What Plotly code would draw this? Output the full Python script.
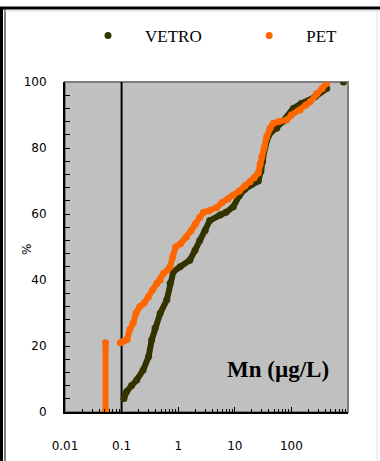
import plotly.graph_objects as go

# ---- data ----
vetro_x = [0.11, 0.123, 0.15, 0.185, 0.24, 0.30, 0.34, 0.39, 0.48, 0.63, 0.72, 0.82, 1.08, 1.6, 1.98,
           2.4, 3.0, 3.6, 5.5, 7.0, 9.4, 12, 15, 20, 26, 29, 31, 34, 40, 55, 70, 108, 150, 262, 420, 830]
vetro_y = [4.1, 6.2, 8.0, 9.7, 12.7, 16.8, 21.8, 25.4, 29.9, 34, 39, 42.5, 44, 46, 49,
           52, 55, 58, 59.7, 60.5, 62.2, 65.5, 67.5, 69, 70, 73, 76, 80, 84, 86, 88, 92, 93.5, 95.5, 98, 100]

pet_low_x = [0.052, 0.052]
pet_low_y = [0.5, 21]

pet_x = [0.095, 0.11, 0.125, 0.14, 0.16, 0.18, 0.21, 0.25, 0.30, 0.35, 0.42, 0.48, 0.55, 0.65, 0.72, 0.80,
         0.90, 1.1, 1.4, 1.7, 2.0, 2.4, 2.8, 3.5, 4.8, 6.0, 7.5, 9.4, 12, 15, 18.6, 22, 25.9, 28, 30, 33,
         36.6, 42, 48, 60, 82.6, 100, 142, 180, 214, 280, 350, 420]
pet_y = [21, 21.5, 22, 25, 27, 30, 32, 33, 35, 37, 39, 40, 42, 43, 44, 47,
         50, 51, 53, 55, 57, 59, 60.5, 61, 62, 63.5, 64.5, 65.7, 67, 68.5, 69.8, 71, 72.4, 75, 77.4, 80,
         83.4, 86, 87.5, 88, 88.5, 90, 91.5, 93, 94, 96.5, 98, 99.6]

series_names = ["VETRO", "PET"]
x_tickvals = [0.01, 0.1, 1, 10, 100]
x_ticktext = ["0.01", "0.1", "1", "10", "100"]
y_tickvals = [0, 20, 40, 60, 80, 100]

VETRO_C = "#333300"
PET_C = "#ff6600"
SERIF = "Liberation Serif, Times New Roman, serif"
SANS = "DejaVu Sans, Arial, sans-serif"

# minor log ticks 2..9 in each decade
x_minor = [m * 10.0 ** e for e in range(-2, 3) for m in range(2, 10)]

fig = go.Figure()

fig.add_trace(go.Scatter(x=[0.1, 0.1], y=[0, 100], mode="lines",
                         line=dict(color="black", width=2), showlegend=False, hoverinfo="skip"))

fig.add_trace(go.Scatter(x=vetro_x[:-1], y=vetro_y[:-1], mode="lines+markers",
                         line=dict(color=VETRO_C, width=6), marker=dict(color=VETRO_C, size=7),
                         showlegend=False))
fig.add_trace(go.Scatter(x=vetro_x[-1:], y=vetro_y[-1:], mode="markers",
                         marker=dict(color=VETRO_C, size=7), showlegend=False))
fig.add_trace(go.Scatter(x=pet_low_x, y=pet_low_y, mode="lines+markers",
                         line=dict(color=PET_C, width=6), marker=dict(color=PET_C, size=7),
                         showlegend=False))
fig.add_trace(go.Scatter(x=pet_x, y=pet_y, mode="lines+markers",
                         line=dict(color=PET_C, width=6), marker=dict(color=PET_C, size=7),
                         showlegend=False))

nb = "\u00a0"
fig.add_trace(go.Scatter(x=[None], y=[None], mode="markers",
                         name=nb * 4 + series_names[0] + nb * 10,
                         marker=dict(color=VETRO_C, size=7)))
fig.add_trace(go.Scatter(x=[None], y=[None], mode="markers",
                         name=nb * 4 + series_names[1],
                         marker=dict(color=PET_C, size=7)))

L, R, T, B = 65, 32, 82, 49
def px(x):
    return (x - L) / 283.0
def py(y):
    return (412 - y) / 330.0

shapes = [
    dict(type="rect", xref="paper", yref="paper", x0=0, y0=0, x1=1, y1=1,
         line=dict(color="#808080", width=2), layer="below"),
    dict(type="line", xref="paper", yref="paper", x0=px(1.5), x1=px(1.5), y0=py(7), y1=py(461),
         line=dict(color="black", width=3)),
    dict(type="line", xref="paper", yref="paper", x0=px(5), x1=px(5), y0=py(9), y1=py(461),
         line=dict(color="black", width=1)),
    dict(type="line", xref="paper", yref="paper", x0=px(0), x1=px(380), y0=py(8), y1=py(8),
         line=dict(color="black", width=3)),
    dict(type="line", xref="paper", yref="paper", x0=px(5), x1=px(380), y0=py(11), y1=py(11),
         line=dict(color="#d8d8d8", width=1)),
    dict(type="line", xref="paper", yref="paper", x0=px(377), x1=px(377), y0=py(11), y1=py(461),
         line=dict(color="#e0e0e0", width=1)),
]

annotations = [
    dict(text="<b>Mn (\u00b5g/L)</b>", xref="paper", yref="paper", x=px(278), y=py(369),
         showarrow=False, font=dict(family=SERIF, size=23, color="black"), xanchor="center", yanchor="middle"),
    dict(text="%", xref="paper", yref="paper", x=px(27), y=py(250), textangle=-90,
         showarrow=False, font=dict(family=SANS, size=12, color="black"), xanchor="center", yanchor="middle"),
]

fig.update_layout(
    width=380, height=461,
    margin=dict(l=L, r=R, t=T, b=B, autoexpand=False),
    paper_bgcolor="white", plot_bgcolor="#c0c0c0",
    shapes=shapes, annotations=annotations,
    showlegend=True,
    legend=dict(orientation="h", x=px(88), y=py(36), xanchor="left", yanchor="middle",
                font=dict(family=SERIF, size=17, color="black"),
                bgcolor="rgba(0,0,0,0)"),
    xaxis=dict(type="log", range=[-2, 3], tickmode="array", tickvals=x_tickvals, ticktext=x_ticktext,
               showgrid=False, zeroline=False, showline=True, linecolor="black", linewidth=2,
               ticks="inside", ticklen=5, tickcolor="black", tickwidth=1,
               ticklabelstandoff=22,
               minor=dict(ticks="inside", ticklen=3, tickcolor="black", tickmode="array",
                          tickvals=x_minor, showgrid=False),
               tickfont=dict(family=SANS, size=12, color="black")),
    yaxis=dict(range=[0, 100], tickmode="array", tickvals=y_tickvals,
               showgrid=False, zeroline=False, showline=True, linecolor="black", linewidth=2,
               ticks="inside", ticklen=5, tickcolor="black", tickwidth=1,
               ticklabelstandoff=14,
               minor=dict(ticks="inside", ticklen=5, tickcolor="black", tickmode="linear",
                          tick0=0, dtick=4, showgrid=False),
               tickfont=dict(family=SANS, size=12, color="black")),
)

fig.write_html("out.html", config={"displayModeBar": False},
               post_script="document.body.style.margin='0';")
